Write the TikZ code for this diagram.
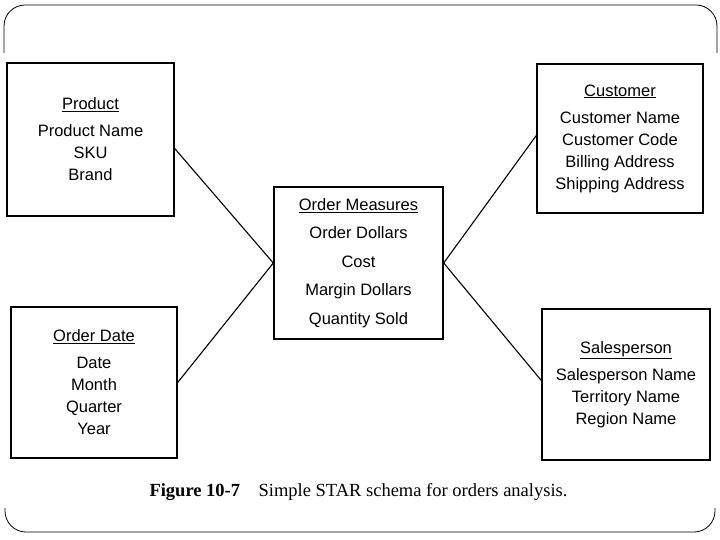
\documentclass[tikz,border=0pt]{standalone}
\usepackage{fontspec}
\setmainfont{Liberation Serif}
\setsansfont{Liberation Sans}
\usetikzlibrary{positioning, calc}

\begin{document}
\begin{tikzpicture}[x=1pt, y=-1pt,
    entity/.style={draw, 
      line width=1.4pt, 
      align=center, 
      inner sep=0pt, 
      font=\sffamily\fontsize{16.5}{22}\selectfont},
    link/.style={line width=1.1pt}]
  \useasboundingbox (0,0) rectangle (720,540);

% FRAME

  \draw[line width=0.8pt, rounded corners=21pt] (4,53) -- (4,5) -- (717,5) -- (717,53);
  \draw[line width=0.8pt, rounded corners=21pt] (5,508) -- (5,532) -- (715,532) -- (715,508);

% ENTITIES

  \node [entity, 
    minimum width=167pt, 
    minimum height=153pt] (product) at (90.5,139.5) {
    \underline{Product}\\[5pt]
    Product Name\\
    SKU\\
    Brand
  };

  \node [entity, 
    minimum width=166pt, 
    minimum height=149pt] (customer) at (620,138.5) {
    \underline{Customer}\\[5pt]
    Customer Name\\
    Customer Code\\
    Billing Address\\
    Shipping Address
  };

  \node [entity, 
    minimum width=169pt, 
    minimum height=152pt, 
    font=\sffamily\fontsize{16.5}{28.5}\selectfont] (measures) at (358.5,263) {
    \underline{Order Measures}\\
    Order Dollars\\
    Cost\\
    Margin Dollars\\
    Quantity Sold
  };

  \node [entity, 
    minimum width=166pt, 
    minimum height=151pt] (orderdate) at (94,382.5) {
    \underline{Order Date}\\[5pt]
    Date\\
    Month\\
    Quarter\\
    Year
  };

  \node [entity, 
    minimum width=168pt, 
    minimum height=151pt] (salesperson) at (626,384.5) {
    \underline{Salesperson}\\[5pt]
    Salesperson Name\\
    Territory Name\\
    Region Name
  };

  \node [anchor=west, 
    font=\fontsize{18.5}{22}\selectfont] (caption) at (146,492) 
    {\textbf{Figure 10-7}\quad Simple STAR schema for orders analysis.};

  % LINKS

  \draw[link] ([yshift=-9pt]product.east) -- (measures.west);
  \draw[link] (orderdate.east) -- (measures.west);
  \draw[link] (measures.east) -- ([yshift=3pt]customer.west);
  \draw[link] (measures.east) -- ([yshift=4pt]salesperson.west);

\end{tikzpicture}
\end{document}
